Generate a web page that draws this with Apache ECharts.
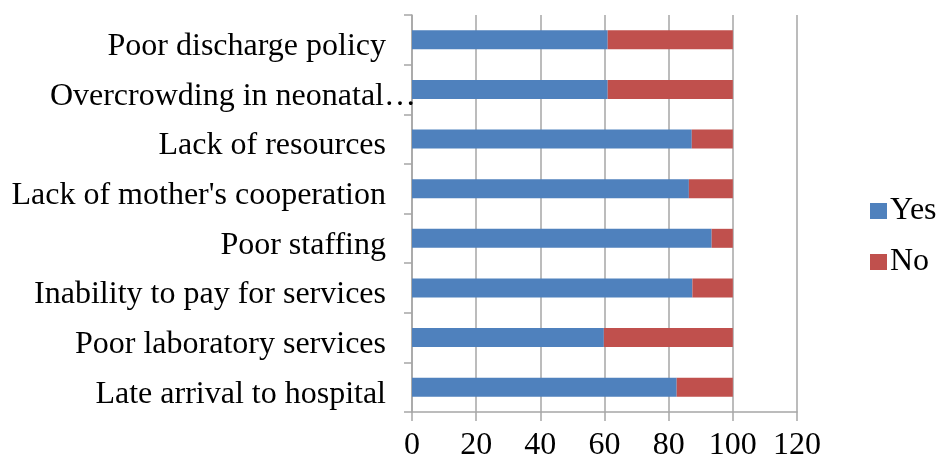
<!DOCTYPE html>
<html>
<head>
<meta charset="utf-8">
<script src="https://cdn.jsdelivr.net/npm/echarts@6/dist/echarts.min.js"></script>
<style>
    html, body { margin: 0; padding: 0; background: #fff; }
    #chart { width: 939px; height: 462px; }
</style>
</head>
<body>
<div id="chart"></div>
<script>
// categories from bottom to top (category axis starts at the bottom)
const categories = [
    'Late arrival to hospital',
    'Poor laboratory services',
    'Inability to pay for services',
    'Poor staffing',
    "Lack of mother's cooperation",
    'Lack of resources',
    'Overcrowding in neonatal…',
    'Poor discharge policy'
];
const yesValues = [82.5, 59.8, 87.4, 93.4, 86.3, 87.2, 61, 61];
const noValues = [17.5, 40.2, 12.6, 6.6, 13.7, 12.8, 39, 39];
const xTicks = [0, 20, 40, 60, 80, 100, 120];

const fontFamily = '"Liberation Serif", "DejaVu Serif", serif';
const gray = '#a6a6a6';
const fontSize = 32;

let myChart = echarts.init(document.getElementById('chart'));

let option = {
    animation: false,
    textStyle: { fontFamily: fontFamily },
    grid: {
        left: 412,
        right: 142,
        top: 15,
        bottom: 49
    },
    legend: {
        orient: 'vertical',
        left: 865,
        top: 190,
        itemWidth: 17,
        itemHeight: 16,
        itemGap: 19,
        icon: 'rect',
        textStyle: { fontSize: fontSize, color: '#000', fontFamily: fontFamily, padding: [0, 0, 0, -2] },
        data: ['Yes', 'No']
    },
    xAxis: {
        type: 'value',
        min: xTicks[0],
        max: xTicks[xTicks.length - 1],
        interval: 20,
        axisLine: { show: true, lineStyle: { color: gray, width: 1.5 } },
        axisTick: { show: true, length: 9, lineStyle: { color: gray, width: 1.5 } },
        splitLine: { show: true, lineStyle: { color: gray, width: 1.5 } },
        axisLabel: { fontSize: fontSize, color: '#000', margin: 18, fontFamily: fontFamily }
    },
    yAxis: {
        type: 'category',
        data: categories,
        axisLine: { show: true, lineStyle: { color: gray, width: 1.5 } },
        axisTick: { show: true, length: 8, lineStyle: { color: gray, width: 1.5 } },
        axisLabel: {
            margin: 26,
            // labels sit a little below the bar centre; the ellipsis hangs past the others
            formatter: (value) => value.endsWith('…') ? '{e|' + value + '}' : '{a|' + value + '}',
            rich: {
                a: { fontSize: fontSize, color: '#000', fontFamily: fontFamily, padding: [14, 0, 0, 0] },
                e: { fontSize: fontSize, color: '#000', fontFamily: fontFamily, padding: [14, -30, 0, 0] }
            }
        }
    },
    series: [
        {
            name: 'Yes',
            type: 'bar',
            stack: 'total',
            barWidth: 19,
            itemStyle: { color: '#4F81BD' },
            data: yesValues
        },
        {
            name: 'No',
            type: 'bar',
            stack: 'total',
            barWidth: 19,
            itemStyle: { color: '#C0504D' },
            data: noValues
        }
    ]
};
myChart.setOption(option);
</script>
</body>
</html>
